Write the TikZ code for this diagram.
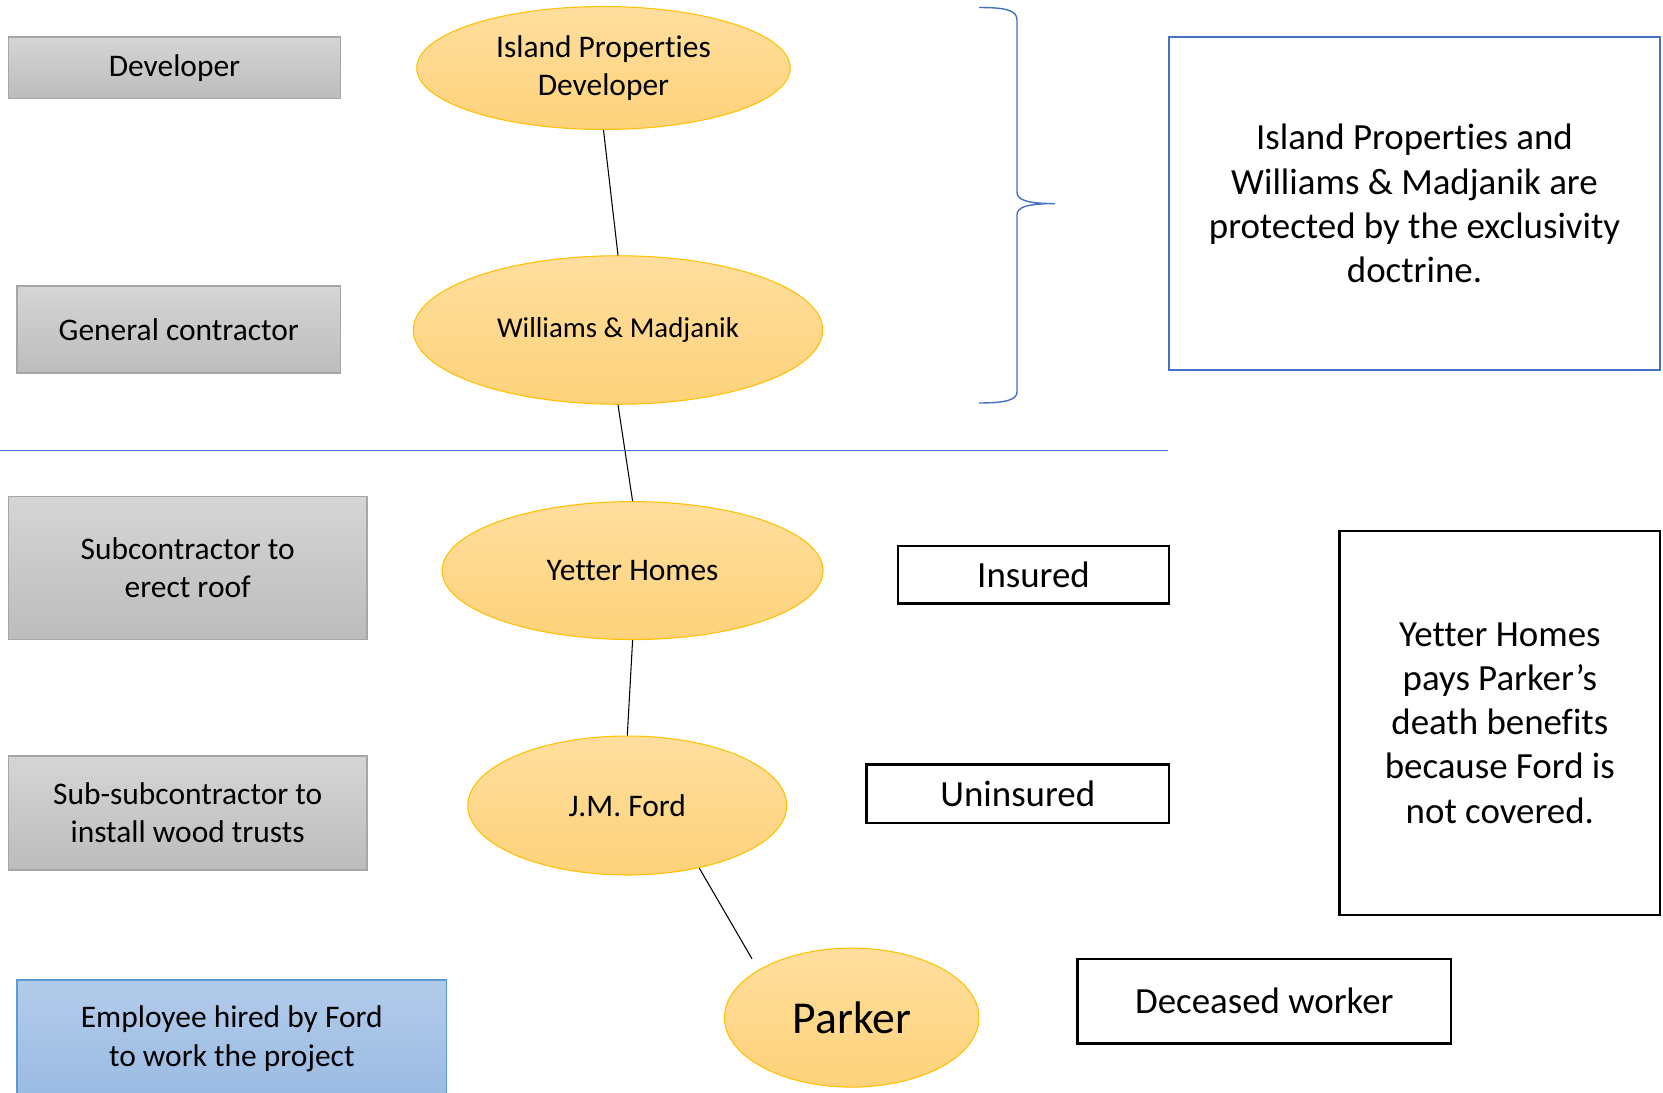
\documentclass[tikz,border=0pt]{standalone}
\usepackage{fontspec}
\setmainfont{Carlito}[Ligatures=NoCommon, Contextuals=NoAlternate]
\usetikzlibrary{shapes.geometric}
\definecolor{roleborder}{HTML}{A6A6A6}
\definecolor{roletop}{HTML}{D5D5D5}
\definecolor{rolebottom}{HTML}{BCBCBC}
\definecolor{partytop}{HTML}{FFDE9E}
\definecolor{partybottom}{HTML}{FDD27A}
\definecolor{partyborder}{HTML}{FFC000}
\definecolor{officeblue}{HTML}{4472C4}
\definecolor{hiretop}{HTML}{B2CBEA}
\definecolor{hirebottom}{HTML}{9BBBE3}
\definecolor{hireborder}{HTML}{5B9BD5}

\begin{document}
\begin{tikzpicture}[x=0.02cm, y=-0.02cm,
    role/.style={draw=roleborder, line width=1pt, top color=roletop, bottom color=rolebottom,
      align=center, inner sep=0pt, font=\fontsize{17.9}{21.7}\selectfont},
    party/.style={ellipse, draw=partyborder, line width=0.6pt, top color=partytop, bottom color=partybottom,
      align=center, inner sep=0pt, font=\fontsize{17.9}{21.7}\selectfont},
    status/.style={draw=black, line width=1.4pt, fill=white, align=center, inner sep=0pt,
      font=\fontsize{21}{25.2}\selectfont},
    link/.style={draw=black, line width=0.6pt}]
  \useasboundingbox[fill=white] (0,0) rectangle (1663,1092);

  % Roles on the left
  \node[role, minimum width=6.64cm, minimum height=1.23cm] (developer) at (174.5,67.8) {Developer};
  \node[role, minimum width=6.47cm, minimum height=1.74cm] (general) at (178.8,329.8) {General contractor};
  \node[role, minimum width=7.17cm, minimum height=2.86cm] (roofsub) at (187.7,568) {Subcontractor to\\erect roof};
  \node[role, minimum width=7.17cm, minimum height=2.27cm] (trustsub) at (187.7,813) {Sub-subcontractor to\\install wood trusts};
  \node[role, draw=hireborder, top color=hiretop, bottom color=hirebottom, font=\fontsize{17.9}{22.2}\selectfont,
    minimum width=8.59cm, minimum height=2.34cm] (employee) at (231.8,1038.5) {Employee hired by Ford\\to work the project};

  % Chain of parties
  \node[party, minimum width=7.47cm, minimum height=2.46cm] (island) at (603.5,68) {Island Properties\\Developer};
  \node[party, font=\fontsize{16.4}{20}\selectfont, minimum width=8.19cm, minimum height=2.97cm] (williams) at (618,330) {Williams \& Madjanik};
  \node[party, minimum width=7.62cm, minimum height=2.76cm] (yetter) at (632.6,570.6) {Yetter Homes};
  \node[party, minimum width=6.38cm, minimum height=2.78cm] (ford) at (627.3,805.5) {J.M. Ford};
  \node[party, font=\fontsize{26}{30}\selectfont, minimum width=5.09cm, minimum height=2.78cm] (parker) at (851.7,1017.6) {Parker};
  \coordinate (parkertop) at (752,958.8);

  \draw[link] (island.south) -- (williams.north);
  \draw[link] (williams.south) -- (yetter.north);
  \draw[link] (yetter.south) -- (ford.north);
  \draw[link] (ford.-41) -- (parkertop);

  % Notes on the right
  \node[status, draw=officeblue, minimum width=9.82cm, minimum height=6.66cm] (exclusive) at (1414.5,203.5)
    {Island Properties and\\Williams \& Madjanik are\\protected by the exclusivity\\doctrine.};
  \node[status, minimum width=5.42cm, minimum height=1.15cm] (insured) at (1033.5,574.8) {Insured};
  \node[status, minimum width=6.05cm, minimum height=1.17cm] (uninsured) at (1017.8,793.9) {Uninsured};
  \node[status, minimum width=6.41cm, minimum height=7.68cm] (benefits) at (1499.8,723)
    {Yetter Homes\\pays Parker’s\\death benefits\\because Ford is\\not covered.};
  \node[status, minimum width=7.47cm, minimum height=1.69cm] (deceased) at (1264.3,1001.3) {Deceased worker};

  % Divider and brace
  \coordinate (divider) at (0,450.8);
  \draw[officeblue, line width=0.6pt] (divider) -- (divider -| exclusive.west);
  \draw[officeblue, line width=0.8pt] (979,7.5) .. controls (1005,7.5) and (1017,10) .. (1017,20)
    -- (1017,192) .. controls (1017,200) and (1027,203.6) .. (1055,203.6)
    .. controls (1027,203.6) and (1017,207) .. (1017,215)
    -- (1017,392) .. controls (1017,400) and (1005,403) .. (979,403);
\end{tikzpicture}
\end{document}
